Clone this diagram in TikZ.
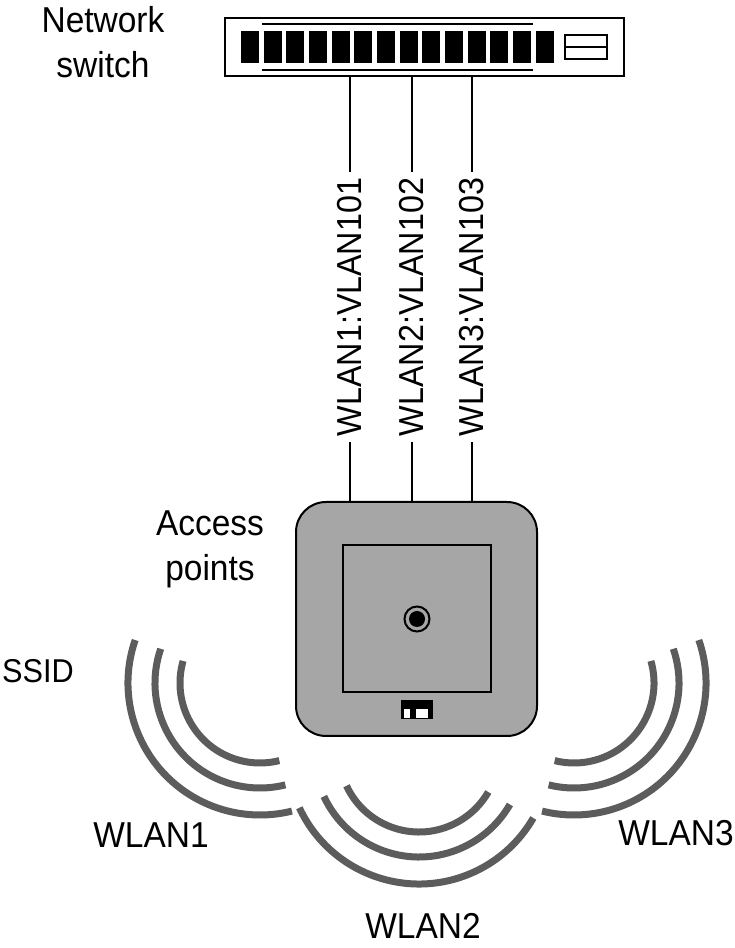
\documentclass[tikz,border=0pt]{standalone}
\usepackage{fontspec}
\setmainfont[FakeStretch=0.93]{Liberation Sans}
\tikzset{
  caption/.style={inner sep=0pt,align=center,font=\fontsize{36}{45}\selectfont},
  vlan/.style={inner sep=6pt,rotate=90,font=\fontsize{34.7}{45}\selectfont},
  wire/.style={line width=2pt},
  port/.style={fill=black,minimum width=18pt,minimum height=32pt,inner sep=0pt},
  wave/.style={line width=7pt,draw={rgb,255:red,92;green,92;blue,92}},
}
\begin{document}
\begin{tikzpicture}[x=1pt,y=1pt]
\useasboundingbox (0,0) rectangle (734,948);
\node[draw,line width=2.5pt,minimum width=399pt,minimum height=58pt,inner sep=0pt] (switch) at (424.5,901) {};
\foreach \i in {0,...,13}
  \node[port] (port\i) at (250+22.67*\i,901) {};
\draw[line width=2pt] (262,924) -- (533,924);
\draw[line width=2pt] (262,878) -- (533,878);
\node[draw,line width=1.5pt,minimum width=42pt,minimum height=24pt,inner sep=0pt] (uplink) at (586,901) {};
\draw[line width=1.5pt] (uplink.west) -- (uplink.east);

\node[draw,line width=2pt,fill={rgb,255:red,166;green,166;blue,166},rounded corners=30pt,minimum width=241pt,minimum height=234pt,inner sep=0pt] (ap) at (416.5,329) {};
\node[draw,line width=2pt,minimum width=148pt,minimum height=147pt,inner sep=0pt] (panel) at (417,329.5) {};
\node[draw,circle,line width=2pt,minimum size=25pt,inner sep=0pt] (led) at (417,329) {};
\node[circle,fill=black,minimum size=16pt,inner sep=0pt] (ledcore) at (417,329) {};
\node[fill=black,minimum width=32pt,minimum height=19pt,inner sep=0pt] (dip) at (417,238.5) {};
\node[fill=white,minimum width=6pt,minimum height=9pt,inner sep=0pt] (dipa) at (407,234.5) {};
\node[fill=white,minimum width=12pt,minimum height=9pt,inner sep=0pt] (dipb) at (422,234.5) {};

\node[vlan] (vlana) at (350,641) {WLAN1:VLAN101};
\node[vlan] (vlanb) at (412,641) {WLAN2:VLAN102};
\node[vlan] (vlanc) at (472,641) {WLAN3:VLAN103};
\foreach \v in {vlana,vlanb,vlanc} {
  \draw[wire] (\v |- switch.south) -- (\v.east);
  \draw[wire] (\v.west) -- (\v |- ap.north);
}

\foreach \r/\s in {132/161,105/161,80/164}
  \draw[wave] (260,265) ++(\s:\r pt) arc[start angle=\s,end angle=284,radius=\r pt];
\foreach \r in {132,105,80}
  \draw[wave] (419,196) ++(205:\r pt) arc[start angle=205,end angle=330,radius=\r pt];
\foreach \r/\s in {132/19,105/19,80/16}
  \draw[wave] (574,265) ++(\s:\r pt) arc[start angle=\s,end angle=-104,radius=\r pt];

\node[caption] (switchname) at (103,906) {Network\\switch};
\node[caption] (apname) at (210,399) {Access\\points};
\node[caption,font=\fontsize{33}{45}\selectfont] (ssid) at (38,277) {SSID};
\node[caption] (wlana) at (151,113) {WLAN1};
\node[caption] (wlanb) at (423,22) {WLAN2};
\node[caption] (wlanc) at (676,115) {WLAN3};
\end{tikzpicture}
\end{document}
